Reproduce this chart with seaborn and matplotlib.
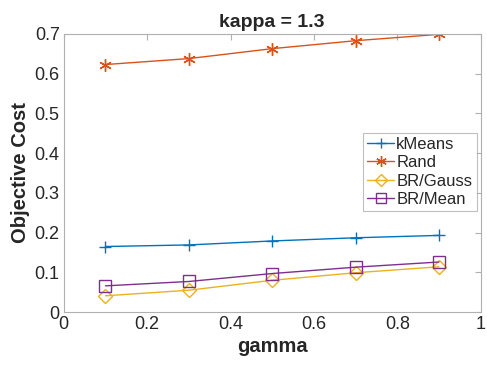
import seaborn as sns
import matplotlib.pyplot as plt
import pandas as pd

# gamma values and objective cost per method
gamma = [0.1, 0.3, 0.5, 0.7, 0.9]
kmeans = [0.165, 0.169, 0.179, 0.187, 0.193]
rand = [0.623, 0.638, 0.663, 0.683, 0.699]
br_gauss = [0.041, 0.055, 0.080, 0.099, 0.114]
br_mean = [0.066, 0.077, 0.097, 0.113, 0.126]

methods = ['kMeans', 'Rand', 'BR/Gauss', 'BR/Mean']
values = [kmeans, rand, br_gauss, br_mean]
colors = ['#0072BD', '#D95319', '#EDB120', '#7E2F8E']
markers = ['+', (6, 2, 0), 'D', 's']
msizes = [9, 9, 7, 8]

sns.set_style('white')
plt.rcParams['font.family'] = ['Liberation Sans', 'DejaVu Sans']

fig = plt.figure(figsize=(4.87, 3.65), dpi=100)
ax = fig.add_axes([0.131, 0.145, 0.856, 0.762])

for name, vals, c, m, ms in zip(methods, values, colors, markers, msizes):
    df = pd.DataFrame({'gamma': gamma, 'cost': vals})
    sns.lineplot(data=df, x='gamma', y='cost', ax=ax, color=c, marker=m,
                 markersize=ms, markerfacecolor='none', markeredgecolor=c,
                 markeredgewidth=1.0, linewidth=1.0, label=name)

ax.set_xlim(0, 1)
ax.set_ylim(0, 0.7)
ax.set_xticks([0, 0.2, 0.4, 0.6, 0.8, 1])
ax.set_xticklabels(['0', '0.2', '0.4', '0.6', '0.8', '1'])
ax.set_yticks([0, 0.1, 0.2, 0.3, 0.4, 0.5, 0.6, 0.7])
ax.set_yticklabels(['0', '0.1', '0.2', '0.3', '0.4', '0.5', '0.6', '0.7'])
ax.tick_params(direction='in', length=4, color='#b0b0b0', labelsize=13,
               top=True, right=True, labelcolor='#262626', pad=3)
for s in ax.spines.values():
    s.set_color('#b0b0b0')
    s.set_linewidth(0.8)

ax.set_xlabel('gamma', fontsize=14.5, fontweight='bold', color='#262626',
              labelpad=3)
ax.set_ylabel('Objective Cost', fontsize=14.5, fontweight='bold',
              color='#262626', labelpad=3)
ax.set_title('kappa = 1.3', fontsize=14, fontweight='bold', pad=5)

leg = ax.legend(loc='upper right', bbox_to_anchor=(0.99, 0.645), fontsize=12,
                frameon=True, fancybox=False, handlelength=1.6,
                handletextpad=0.15, borderpad=0.25, labelspacing=0.2,
                borderaxespad=0, markerscale=0.85)
leg.get_frame().set_edgecolor('#b0b0b0')
leg.get_frame().set_linewidth(0.8)

fig.savefig('out.png', dpi=100)
